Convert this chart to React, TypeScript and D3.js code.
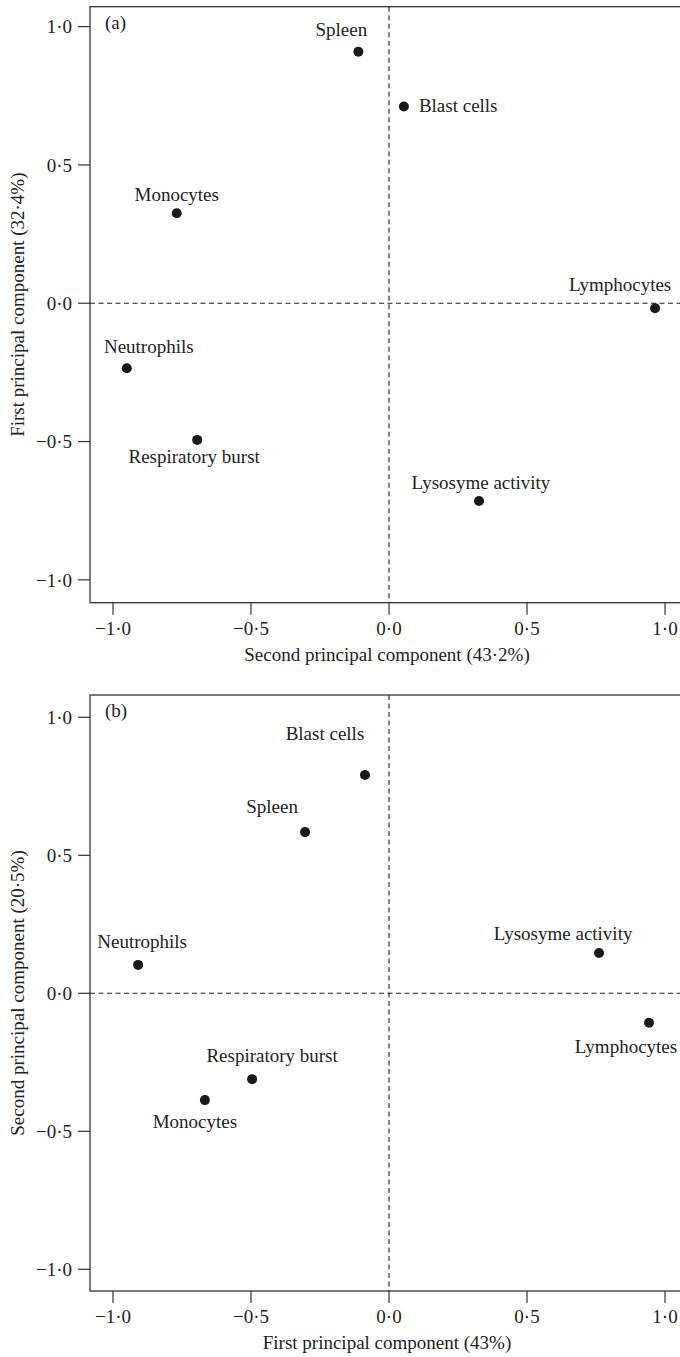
import React from "react";
import * as d3 from "d3";

// Panel (a): x = second principal component, y = first principal component
const labelsA = ["Spleen", "Blast cells", "Monocytes", "Lymphocytes", "Neutrophils", "Respiratory burst", "Lysosyme activity"];
const xA = [-0.111, 0.054, -0.769, 0.964, -0.950, -0.695, 0.326];
const yA = [0.909, 0.711, 0.325, -0.018, -0.235, -0.494, -0.715];

// Panel (b): x = first principal component, y = second principal component
const labelsB = ["Blast cells", "Spleen", "Neutrophils", "Lysosyme activity", "Lymphocytes", "Respiratory burst", "Monocytes"];
const xB = [-0.087, -0.304, -0.909, 0.761, 0.942, -0.496, -0.667];
const yB = [0.791, 0.584, 0.103, 0.146, -0.107, -0.311, -0.387];

const tickValues = [-1, -0.5, 0, 0.5, 1];
const tickLabels = ["\u22121\u00b70", "\u22120\u00b75", "0\u00b70", "0\u00b75", "1\u00b70"];

// label placement (offset from point in px, anchor)
const placeA: [number, number, string][] = [
  [-17, -16, "middle"],
  [15, 5, "start"],
  [0, -12, "middle"],
  [-35, -17, "middle"],
  [22, -15, "middle"],
  [-3, 23, "middle"],
  [2, -12, "middle"],
];
const placeB: [number, number, string][] = [
  [-40, -35, "middle"],
  [-33, -19, "middle"],
  [4, -17, "middle"],
  [-36, -13, "middle"],
  [-23, 30, "middle"],
  [20, -17, "middle"],
  [-10, 28, "middle"],
];

const FONT = "'Liberation Serif', 'Times New Roman', serif";
const FS = 19;
const INK = "#222";

type PanelProps = {
  top: number;
  bottom: number;
  yTop: number;
  yBot: number;
  tag: string;
  labels: string[];
  xs: number[];
  ys: number[];
  place: [number, number, string][];
  xTitle: string;
  yTitle: string;
  xTitleY: number;
};

function Panel(p: PanelProps) {
  const x = d3.scaleLinear().domain([-1.0833, 1.0833]).range([90, 688]);
  const y = d3.scaleLinear().domain([p.yBot, p.yTop]).range([p.bottom, p.top]);
  const left = x(-1.0833);
  const right = x(1.0833);
  const yCenter = (p.top + p.bottom) / 2;
  return (
    <g fontFamily={FONT} fontSize={FS} fill={INK}>
      <line x1={x(0)} x2={x(0)} y1={p.top} y2={p.bottom} stroke={INK} strokeWidth={1.1} strokeDasharray="5,3.5" />
      <line x1={left} x2={right} y1={y(0)} y2={y(0)} stroke={INK} strokeWidth={1.1} strokeDasharray="5,3.5" />
      <rect x={left} y={p.top} width={right - left} height={p.bottom - p.top} fill="none" stroke="#333" strokeWidth={1.3} />
      {tickValues.map((v, i) => (
        <g key={"y" + i}>
          <line x1={left - 12} x2={left} y1={y(v)} y2={y(v)} stroke="#333" strokeWidth={1.2} />
          <text x={left - 18} y={y(v)} dy="0.35em" textAnchor="end">{tickLabels[i]}</text>
        </g>
      ))}
      {tickValues.map((v, i) => (
        <g key={"x" + i}>
          <line x1={x(v)} x2={x(v)} y1={p.bottom} y2={p.bottom + 12} stroke="#333" strokeWidth={1.2} />
          <text x={x(v)} y={p.bottom + 32} textAnchor="middle">{tickLabels[i]}</text>
        </g>
      ))}
      <text x={left + 15} y={p.top + 22}>{p.tag}</text>
      {p.xs.map((v, i) => (
        <g key={"p" + i}>
          <circle cx={x(v)} cy={y(p.ys[i])} r={5} fill="#1a1a1a" />
          <text x={x(v) + p.place[i][0]} y={y(p.ys[i]) + p.place[i][1]} textAnchor={p.place[i][2] as any}>{p.labels[i]}</text>
        </g>
      ))}
      <text x={387} y={p.xTitleY} textAnchor="middle">{p.xTitle}</text>
      <text transform={`translate(24,${yCenter}) rotate(-90)`} textAnchor="middle">{p.yTitle}</text>
    </g>
  );
}

export default function App() {
  return (
    <svg width={680} height={1357} style={{ position: "absolute", left: 0, top: 0, background: "#fff" }}>
      <rect width={680} height={1357} fill="#fff" />
      <Panel
        top={6.7}
        bottom={602.7}
        yTop={1.072}
        yBot={-1.0826}
        tag="(a)"
        labels={labelsA}
        xs={xA}
        ys={yA}
        place={placeA}
        xTitle="Second principal component (43·2%)"
        yTitle="First principal component (32·4%)"
        xTitleY={661}
      />
      <Panel
        top={695}
        bottom={1291}
        yTop={1.0808}
        yBot={-1.0786}
        tag="(b)"
        labels={labelsB}
        xs={xB}
        ys={yB}
        place={placeB}
        xTitle="First principal component (43%)"
        yTitle="Second principal component (20·5%)"
        xTitleY={1349}
      />
    </svg>
  );
}
